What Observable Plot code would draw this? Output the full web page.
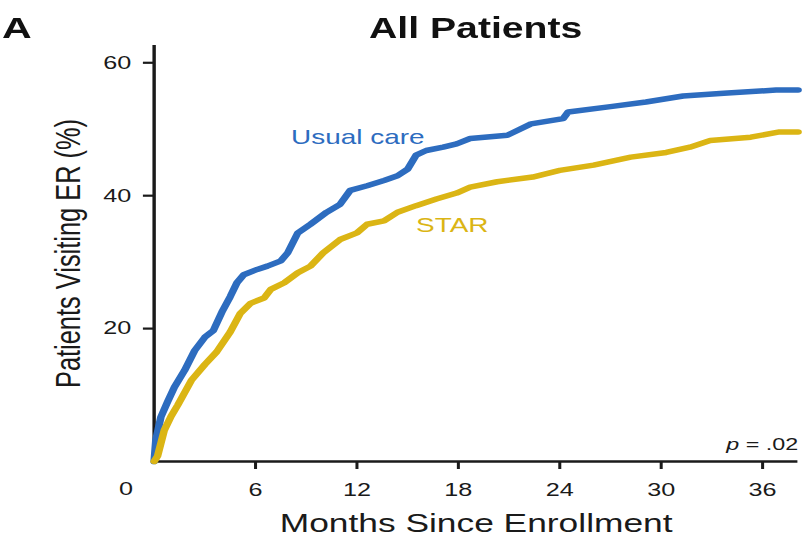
<!DOCTYPE html>
<html>
<head>
<meta charset="utf-8">
<script src="https://cdn.jsdelivr.net/npm/d3@7"></script>
<script src="https://cdn.jsdelivr.net/npm/@observablehq/plot@0.6"></script>
<style>
  html, body { margin: 0; padding: 0; background: #fff; overflow: hidden; }
  #wrap { width: 589px; position: relative; transform: scaleX(1.37012); transform-origin: 0 0; font-family: "Liberation Sans", Arial, sans-serif; }
  #header { position: relative; height: 40px; }
  #panel { position: absolute; left: 1.5px; top: 12.6px; font-size: 30px; line-height: 30px; font-weight: bold; color: #111; }
  #title { position: absolute; left: 112px; width: 470.4px; top: 13.8px; text-align: center; font-size: 28.6px; line-height: 28.6px; font-weight: bold; color: #111; }
  #chart svg { display: block; }
  g[aria-label="x-axis tick"], g[aria-label="y-axis tick"] { stroke-width: 2.2px; }
  g[aria-label="x-axis"] line, g[aria-label="y-axis"] line { stroke-width: 2.2px; }
</style>
</head>
<body>
<div id="wrap">
  <div id="header"><div id="panel">A</div><div id="title">All Patients</div></div>
  <div id="chart"></div>
</div>
<script>
// ---- data ----
const seriesNames = ["Usual care", "STAR"];
const seriesColors = ["#2d6cbf", "#dbb514"];

const monthsUsual = [0, 0.1, 0.4, 0.8, 1.2, 1.8, 2.4, 3.0, 3.5, 4.05, 4.5, 4.9, 5.3, 6.1, 6.7, 7.5, 7.9, 8.5, 9.25, 10.2, 11.0, 11.6, 12.6, 13.6, 14.4, 15.0, 15.5, 16.1, 17.1, 17.9, 18.7, 20.9, 22.3, 24.2, 24.5, 27.0, 29.1, 31.3, 33.7, 36.8, 38.1];
const pctUsual   = [0, 3.2, 6.7, 9.0, 11.2, 13.7, 16.7, 18.7, 19.7, 22.7, 24.8, 26.9, 28.1, 28.9, 29.4, 30.2, 31.4, 34.4, 35.7, 37.5, 38.7, 40.8, 41.5, 42.3, 43.0, 44.0, 46.1, 46.8, 47.3, 47.8, 48.6, 49.1, 50.8, 51.6, 52.6, 53.4, 54.1, 55.0, 55.4, 55.9, 55.9];

const monthsStar = [0, 0.2, 0.6, 1.0, 1.4, 2.2, 3.0, 3.7, 4.5, 5.1, 5.7, 6.5, 6.9, 7.7, 8.5, 9.25, 10.0, 11.0, 12.0, 12.6, 13.6, 14.4, 15.5, 16.7, 17.9, 18.7, 20.3, 22.4, 24.0, 26.0, 28.2, 30.3, 31.7, 32.9, 35.3, 37.0, 38.1];
const pctStar    = [0, 0.8, 4.7, 6.8, 8.5, 12.2, 14.6, 16.5, 19.5, 22.3, 23.8, 24.6, 25.9, 26.9, 28.4, 29.4, 31.4, 33.4, 34.4, 35.7, 36.2, 37.5, 38.5, 39.5, 40.4, 41.3, 42.1, 42.8, 43.8, 44.6, 45.8, 46.5, 47.3, 48.3, 48.8, 49.6, 49.6];

const xTicks = [6, 12, 18, 24, 30, 36];
const yTicks = [20, 40, 60];
const xDomain = [0, 38.1];
const yDomain = [0, 62.6];

// series label anchors (data units)
const labelMonths = [8.1, 15.5];
const labelPcts = [48.8, 35.5];

const pLabel = "= .02";
const cornerZero = ["0"];

// ---- build tables ----
const usual = monthsUsual.map((m, i) => ({month: m, pct: pctUsual[i], series: seriesNames[0]}));
const star = monthsStar.map((m, i) => ({month: m, pct: pctStar[i], series: seriesNames[1]}));
const labels = seriesNames.map((s, i) => ({series: s, month: labelMonths[i], pct: labelPcts[i], color: seriesColors[i]}));

const chart = Plot.plot({
  width: 589,
  height: 507,
  marginTop: 5,
  marginBottom: 86,
  marginLeft: 112,
  marginRight: 7,
  style: {fontFamily: "'Liberation Sans', Arial, sans-serif", fontSize: "18.4px", color: "#1a1a1a", background: "#fff", overflow: "visible"},
  x: {domain: xDomain, ticks: xTicks, tickSize: 8, tickPadding: 13, label: null},
  y: {domain: yDomain, ticks: yTicks, tickSize: 7.7, tickPadding: 9, label: null},
  marks: [
    Plot.ruleY([0], {stroke: "#1a1a1a", strokeWidth: 2.6}),
    Plot.ruleX([0], {stroke: "#1a1a1a", strokeWidth: 2.5}),
    Plot.line(usual, {x: "month", y: "pct", stroke: seriesColors[0], strokeWidth: 5.5, curve: "linear"}),
    Plot.line(star, {x: "month", y: "pct", stroke: seriesColors[1], strokeWidth: 5.5, curve: "linear"}),
    Plot.text(labels, {x: "month", y: "pct", text: "series", fill: "color", textAnchor: "start", fontSize: 20.4}),
    Plot.text(cornerZero, {x: () => 0, y: () => 0, text: d => d, textAnchor: "end", lineAnchor: "middle", dx: -15.4, dy: 28, fontSize: 18.4, fill: "#1a1a1a"}),
    Plot.text([pLabel], {frameAnchor: "bottom-right", text: d => d, textAnchor: "end", lineAnchor: "middle", dy: -17, fontSize: 17, fill: "#1a1a1a"}),
    Plot.text(["p"], {frameAnchor: "bottom-right", text: d => d, textAnchor: "end", lineAnchor: "middle", dx: -43, dy: -17, fontSize: 17, fontStyle: "italic", fill: "#1a1a1a"}),
    Plot.text(["Months Since Enrollment"], {frameAnchor: "bottom", text: d => d, textAnchor: "middle", lineAnchor: "middle", dy: 62, fontSize: 25.8, fill: "#1a1a1a"}),
    Plot.text(["Patients Visiting ER (%)"], {frameAnchor: "left", text: d => d, rotate: -90, textAnchor: "middle", lineAnchor: "middle", dx: -62, fontSize: 25.4, fill: "#1a1a1a"})
  ]
});
document.getElementById("chart").appendChild(chart);
</script>
</body>
</html>
